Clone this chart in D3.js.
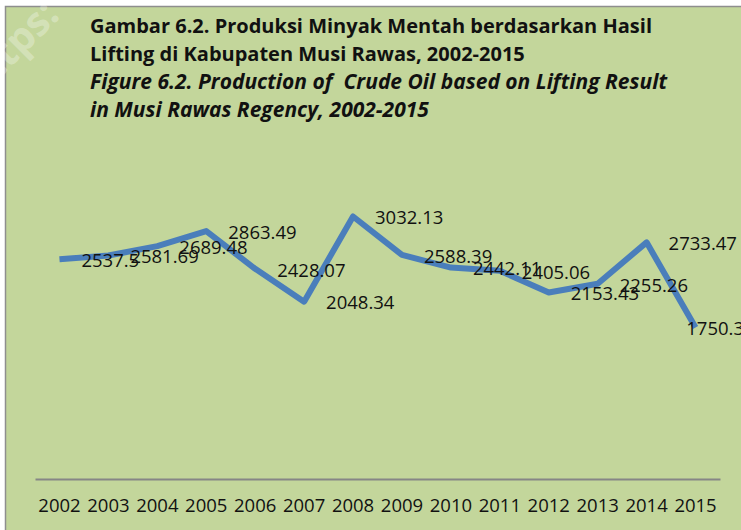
<!DOCTYPE html>
<html><head><meta charset="utf-8">
<script src="https://cdn.jsdelivr.net/npm/d3@7"></script>
<style>
html,body{margin:0;padding:0;background:#fff;}
svg{display:block;}
</style></head>
<body>
<svg id="chart" width="741" height="530"></svg>
<script>
const years = ["2002","2003","2004","2005","2006","2007","2008","2009","2010","2011","2012","2013","2014","2015"];
const production = [2537.5,2581.69,2689.48,2863.49,2428.07,2048.34,3032.13,2588.39,2442.11,2405.06,2153.43,2255.26,2733.47,1750.3];
const valueLabels = ["2537.5","2581.69","2689.48","2863.49","2428.07","2048.34","3032.13","2588.39","2442.11","2405.06","2153.43","2255.26","2733.47","1750.3"];
const titleLines = [
  {text:"Gambar 6.2. Produksi Minyak Mentah berdasarkan Hasil", italic:false},
  {text:"Lifting di Kabupaten Musi Rawas, 2002-2015", italic:false},
  {text:"Figure 6.2. Production of  Crude Oil based on Lifting Result", italic:true},
  {text:"in Musi Rawas Regency, 2002-2015", italic:true}
];

const svg = d3.select("#chart");
const font = "'Open Sans', 'Noto Sans', sans-serif";
const W = 741;

// chart area background + border
svg.append("rect").attr("x",5.5).attr("y",6.5).attr("width",760).attr("height",540)
  .attr("fill","#c3d69b").attr("stroke","#8e8e8e").attr("stroke-width",1.5);

// faint watermark
svg.append("text").attr("transform","translate(-22,100) rotate(-45)")
  .attr("font-family",font).attr("font-size",40).attr("font-weight","bold")
  .attr("fill","#ffffff").attr("fill-opacity",0.3)
  .style("white-space","pre").text("https:");

// title
const tg = svg.append("g");
const titleBaselines = [33, 61, 89, 117];
titleLines.forEach((l,i)=>{
  tg.append("text").attr("x",90).attr("y",titleBaselines[i])
    .attr("font-family",font).attr("font-size", l.italic ? 21 : 20).attr("font-weight","bold")
    .attr("font-style", l.italic ? "italic" : "normal")
    .attr("fill","#111").style("white-space","pre").text(l.text);
});

const x = d3.scaleBand().domain(years).range([35,720]);
const y = d3.scaleLinear().domain([0,3500]).range([479,176]);

// axis
const xAxis = d3.axisBottom(x).tickSize(0).tickPadding(20);
const ax = svg.append("g").attr("transform","translate(0,479)").call(xAxis);
ax.select(".domain").attr("stroke","#868686").attr("stroke-width",2);
ax.selectAll("text").attr("font-family",font).attr("font-size",18.5).attr("fill","#111");

// line
const cx = (i)=>x(years[i])+x.bandwidth()/2;
const line = d3.line().x((d,i)=>cx(i)).y(d=>y(d));
svg.append("path").datum(production).attr("d",line)
  .attr("fill","none").attr("stroke","#4a7ebb").attr("stroke-width",6)
  .attr("stroke-linejoin","round").attr("stroke-linecap","butt");

// value labels (right of points, pushed inside the chart area when overflowing)
svg.append("g").selectAll("text").data(production).join("text")
  .attr("x",(d,i)=>cx(i)+22)
  .attr("y",d=>y(d)).attr("dy","0.42em")
  .attr("font-family",font).attr("font-size",18.5).attr("fill","#111")
  .text((d,i)=>valueLabels[i])
  .each(function(){
    const w = this.getComputedTextLength();
    const x0 = +this.getAttribute("x");
    if (x0 + w > W + 3) this.setAttribute("x", W + 3 - w);
  });
</script>
</body></html>
